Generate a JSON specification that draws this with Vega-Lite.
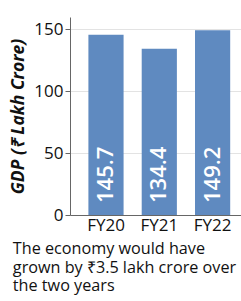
{
  "$schema": "https://vega.github.io/schema/vega-lite/v6.json",
  "autosize": "none",
  "width": 171,
  "height": 198,
  "padding": {"left": 70, "top": 17, "right": 0, "bottom": 86},
  "background": "white",
  "config": {
    "font": "Open Sans",
    "view": {"stroke": null}
  },
  "title": {
    "text": ["The economy would have", "grown by ₹3.5 lakh crore over", "the two years"],
    "orient": "bottom",
    "anchor": "start",
    "frame": "bounds",
    "font": "Open Sans",
    "fontSize": 16.2,
    "fontWeight": "normal",
    "color": "#111",
    "lineHeight": 18.5,
    "offset": 8,
    "dx": 3
  },
  "data": {
    "values": [
      {"year": "FY20", "gdp": 145.7},
      {"year": "FY21", "gdp": 134.4},
      {"year": "FY22", "gdp": 149.2}
    ]
  },
  "encoding": {
    "x": {
      "field": "year",
      "type": "nominal",
      "sort": null,
      "scale": {"paddingInner": 0.34, "paddingOuter": 0.274, "align": 0.63},
      "axis": {
        "title": null,
        "labelAngle": 0,
        "labelFontSize": 17,
        "labelColor": "#111",
        "domainColor": "#666",
        "ticks": false,
        "labelPadding": 2
      }
    }
  },
  "layer": [
    {
      "mark": {"type": "bar", "color": "#5f8ac0"},
      "encoding": {
        "y": {
          "field": "gdp",
          "type": "quantitative",
          "scale": {"domain": [0, 150]},
          "axis": {
            "values": [0, 50, 100, 150],
            "title": "GDP (₹ Lakh Crore)",
            "titleFontSize": 17.5,
            "titleFontWeight": "bold",
            "titleFontStyle": "italic",
            "titleColor": "#111",
            "titlePadding": 6,
            "labelFontSize": 17,
            "labelColor": "#111",
            "labelPadding": 2,
            "tickSize": 5,
            "tickColor": "#666",
            "domainColor": "#666",
            "gridColor": "#e3e3e3"
          }
        }
      }
    },
    {
      "mark": {
        "type": "text",
        "angle": 270,
        "align": "left",
        "baseline": "middle",
        "color": "white",
        "fontSize": 22,
        "fontWeight": 600,
        "dx": 12
      },
      "encoding": {
        "y": {"datum": 0, "type": "quantitative"},
        "text": {"field": "gdp", "type": "quantitative", "format": ".1f"}
      }
    }
  ]
}
